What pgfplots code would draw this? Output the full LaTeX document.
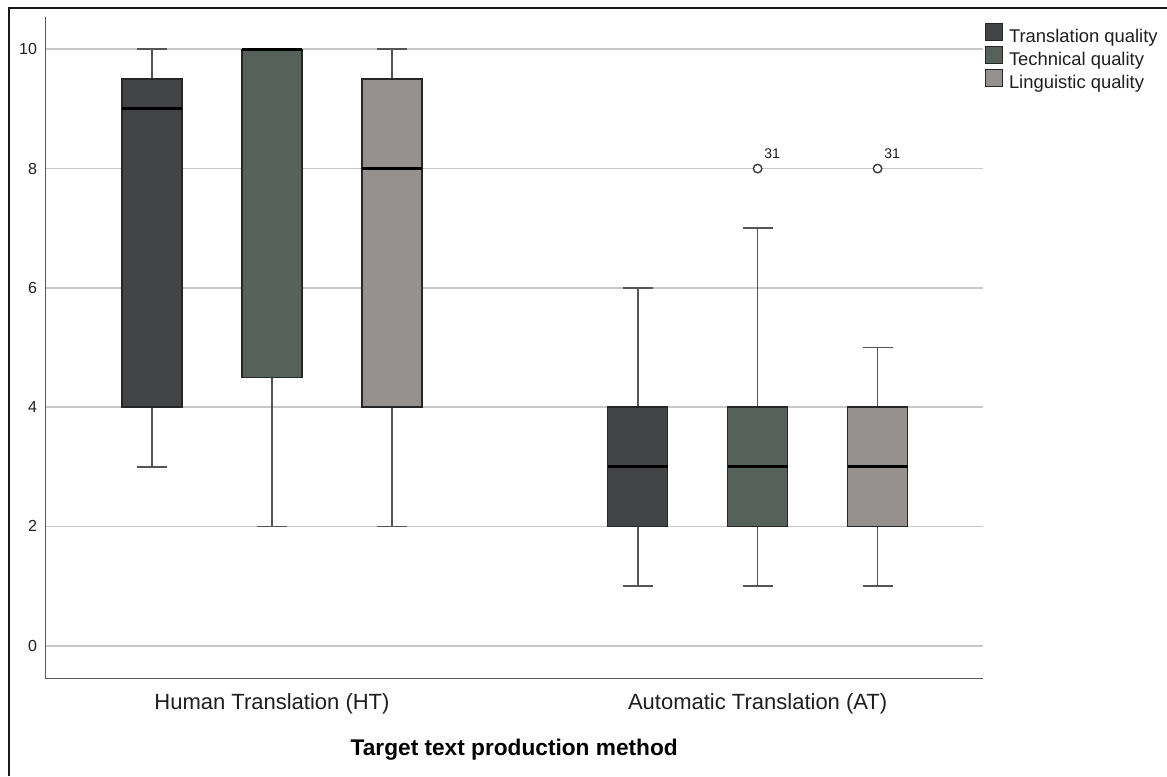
\documentclass[border=0pt]{standalone}
\usepackage{fontspec}
\setmainfont{Liberation Sans}
\usepackage{pgfplots}
\pgfplotsset{compat=1.18}
\usepgfplotslibrary{statistics}

\definecolor{trq}{RGB}{67,68,70}
\definecolor{tcq}{RGB}{87,97,91}
\definecolor{lgq}{RGB}{150,144,142}
\definecolor{whisk}{RGB}{85,85,85}
\definecolor{gridc}{RGB}{200,200,200}
\definecolor{axisc}{RGB}{90,90,90}
\definecolor{txt}{RGB}{30,30,30}

\pgfplotsset{
  qbox/.style={
    boxplot/draw direction=y,
    boxplot/box extend=0.5,
    boxplot/whisker extend=0.25,
    boxplot/every box/.style={fill=#1, draw=black!85, line width=1pt},
    boxplot/every whisker/.style={draw=whisk, line width=1.2pt},
    boxplot/every median/.style={draw=black, line width=2.3pt},
    mark=*, mark size=3.2pt,
    mark options={draw=black!75, fill=white, line width=1.1pt},
  },
}

\begin{document}
\begin{tikzpicture}
\useasboundingbox (0,0) rectangle (875.25pt,582pt);
% outer frame
\draw[line width=1.6pt, black!90] (7pt,0pt) -- (7pt,576pt) -- (877pt,576pt);
\begin{axis}[
  at={(33.9pt,73.3pt)}, anchor=south west,
  scale only axis, width=703.5pt, height=496.2pt,
  xmin=0.109, xmax=7.931, ymin=-0.547, ymax=10.547,
  axis x line=bottom, axis y line=left,
  axis line style={-, draw=axisc, line width=1pt},
  major tick length=0pt,
  ytick={0,2,...,10},
  xtick={2,6.05},
  xticklabels={Human Translation (HT), Automatic Translation (AT)},
  ymajorgrids, grid style={draw=gridc, line width=1.3pt},
  /pgf/number format/assume math mode=true,
  yticklabel style={font=\fontsize{12}{14}\selectfont, text=txt, anchor=east, inner sep=0pt, xshift=-6pt},
  xticklabel style={font=\fontsize{16.5}{19}\selectfont, text=txt, anchor=base, inner sep=0pt, yshift=-23.2pt},
  xlabel={\bfseries Target text production method},
  xlabel style={at={(axis description cs:0.5,-0.116)}, anchor=base, inner sep=0pt, font=\fontsize{17}{20}\selectfont, text=black},
  legend style={at={(1.002,0.991)}, anchor=north west, draw=none, fill=none,
    inner sep=0pt, outer sep=0pt, font=\fontsize{13.8}{16}\selectfont, text=txt,
    row sep=-0.6pt, nodes={inner sep=0pt, text height=10pt, text depth=3pt}},
  legend cell align=left,
  legend image code/.code={\draw[#1, draw=black!85, line width=1pt] (0pt,-1.9pt) rectangle (12.75pt,10.85pt); \path (17.25pt,0pt);},
  clip=false,
]
% Human Translation (HT)
\addplot[qbox=trq, forget plot, boxplot prepared={draw position=1,
  lower whisker=3, lower quartile=4, median=9, upper quartile=9.5, upper whisker=10}] coordinates {};
\addplot[qbox=tcq, forget plot, boxplot prepared={draw position=2,
  lower whisker=2, lower quartile=4.5, median=10, upper quartile=10, upper whisker=10}] coordinates {};
\addplot[qbox=lgq, forget plot, boxplot prepared={draw position=3,
  lower whisker=2, lower quartile=4, median=8, upper quartile=9.5, upper whisker=10}] coordinates {};
% Automatic Translation (AT)
\addplot[qbox=trq, forget plot, boxplot prepared={draw position=5.05,
  lower whisker=1, lower quartile=2, median=3, upper quartile=4, upper whisker=6}] coordinates {};
\addplot[qbox=tcq, forget plot, boxplot prepared={draw position=6.05,
  lower whisker=1, lower quartile=2, median=3, upper quartile=4, upper whisker=7}]
  table[row sep=\\, y index=0] {v\\ 8\\};
\addplot[qbox=lgq, forget plot, boxplot prepared={draw position=7.05,
  lower whisker=1, lower quartile=2, median=3, upper quartile=4, upper whisker=5}]
  table[row sep=\\, y index=0] {v\\ 8\\};
% case numbers of the outliers
\node[anchor=south west, inner sep=0pt, xshift=4.9pt, yshift=7.2pt, text=txt,
  font=\fontsize{10.5}{12}\selectfont] at (axis cs:6.05,8) {31};
\node[anchor=south west, inner sep=0pt, xshift=4.9pt, yshift=7.2pt, text=txt,
  font=\fontsize{10.5}{12}\selectfont] at (axis cs:7.05,8) {31};

\addlegendimage{fill=trq}
\addlegendentry{Translation quality}
\addlegendimage{fill=tcq}
\addlegendentry{Technical quality}
\addlegendimage{fill=lgq}
\addlegendentry{Linguistic quality}
\end{axis}
\end{tikzpicture}
\end{document}
